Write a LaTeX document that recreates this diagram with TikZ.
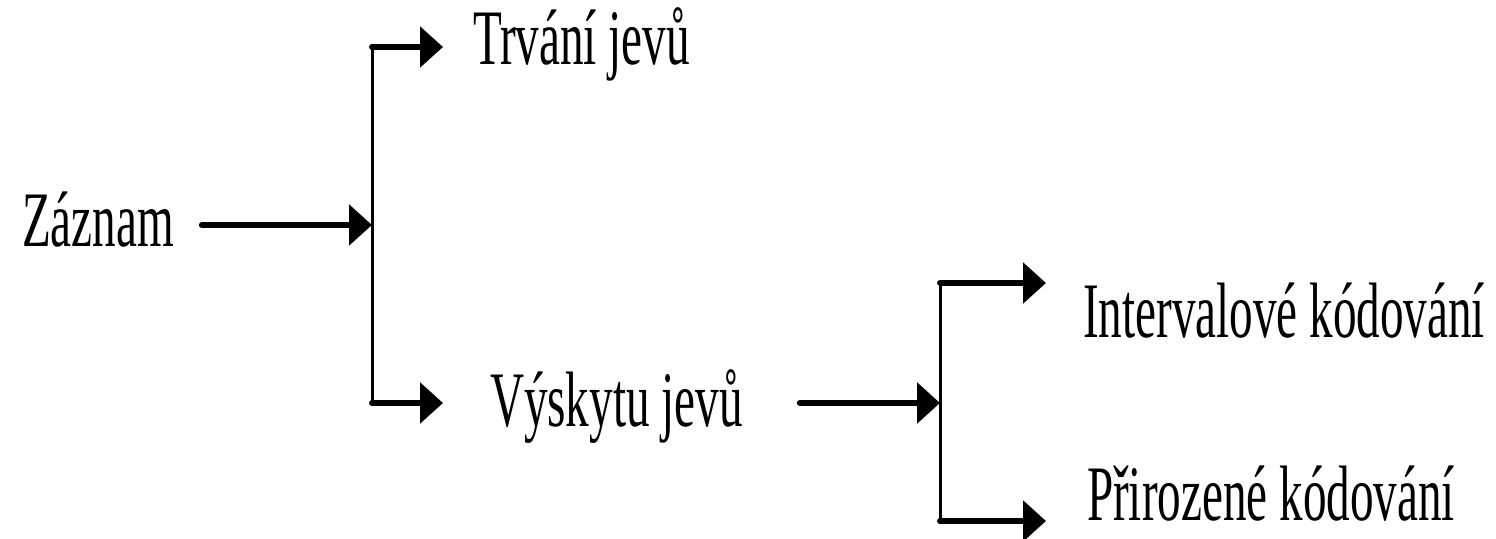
\documentclass[tikz,border=0pt]{standalone}
\usepackage{fontspec}
\setmainfont{Liberation Serif}
\newfontfamily\condserif[FakeStretch=0.6]{Liberation Serif}
\usetikzlibrary{arrows.meta}
\begin{document}
\begin{tikzpicture}[x=0.5pt,y=-0.5pt,
  lbl/.style={inner sep=0pt,outer sep=0pt,anchor=base west,font=\condserif\fontsize{39.3pt}{40pt}\selectfont},
  arr/.style={line width=3pt,line cap=round,-{Triangle[length=11.5pt,width=20pt]}},
  vline/.style={line width=1.5pt}]
\useasboundingbox (0,0) rectangle (1496,539);
\node[lbl] (zaznam) at (22,247) {Záznam};
\node[lbl] (trvani) at (473,65) {Trvání jevů};
\node[lbl] (vyskytu) at (490,427) {Výskytu jevů};
\node[lbl] (interval) at (1083,338) {Intervalové kódování};
\node[lbl] (prirozene) at (1087,521) {Přirozené kódování};
\coordinate (j1top) at (372,47);
\coordinate (j1mid) at (372,225);
\coordinate (j1bot) at (372,403);
\coordinate (j2top) at (940,283);
\coordinate (j2mid) at (940,403);
\coordinate (j2bot) at (940,521);
\draw[vline] (j1top) -- (j1bot);
\draw[vline] (j2top) -- (j2bot);
\draw[arr,shorten <=14pt] (zaznam.east |- j1mid) -- (j1mid);
\draw[arr,shorten >=15pt] (j1top) -- (trvani.west |- j1top);
\draw[arr,shorten >=23.5pt] (j1bot) -- (vyskytu.west |- j1bot);
\draw[arr,shorten <=28.5pt] (vyskytu.east |- j2mid) -- (j2mid);
\draw[arr,shorten >=18.5pt] (j2top) -- (interval.west |- j2top);
\draw[arr,shorten >=20.5pt] (j2bot) -- (prirozene.west |- j2bot);
\end{tikzpicture}
\end{document}
